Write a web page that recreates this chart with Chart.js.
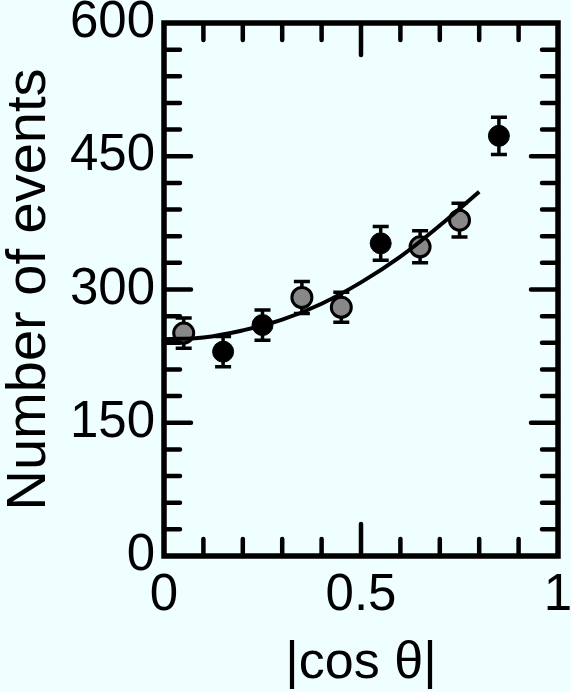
<!DOCTYPE html>
<html>
<head>
<meta charset="utf-8">
<script src="https://cdn.jsdelivr.net/npm/chart.js@4.4.0/dist/chart.umd.min.js"></script>
<style>
  html, body { margin: 0; padding: 0; background: #effefe; }
  canvas { display: block; }
</style>
</head>
<body>
<canvas id="angChart" width="571" height="692"></canvas>
<script>
// |cos theta| bins, open and filled samples
const openBins = [0.05, 0.35, 0.45, 0.65, 0.75];
const openEvents = [251, 291, 280, 348, 378];
const openErr = [17, 18, 17, 18, 19];

const filledBins = [0.15, 0.25, 0.55, 0.85];
const filledEvents = [230, 260, 352, 473];
const filledErr = [17, 17, 19, 21];

// fitted curve
const fitX = [0, 0.1, 0.2, 0.3, 0.4, 0.5, 0.6, 0.7, 0.8];
const fitY = [244, 246, 254, 266, 284, 308, 337, 372, 410];

const xLabels = [0, 0.5, 1];
const yLabels = [0, 150, 300, 450, 600];

const INK = '#000';
const FONT = "'Liberation Sans', Arial, sans-serif";

function toPoints(xs, ys) {
  return xs.map((x, i) => ({ x: x, y: ys[i] }));
}

function isLabel(list, v) {
  return list.some(l => Math.abs(l - v) < 1e-6);
}

// frame with inward ticks on all four sides
const frameTicks = {
  id: 'frameTicks',
  beforeDatasetsDraw(chart) {
    const { ctx, chartArea: a, scales } = chart;
    ctx.save();
    ctx.strokeStyle = INK;
    ctx.lineCap = 'round';

    ctx.lineWidth = 4.5;
    scales.x.ticks.forEach(t => {
      if (t.value <= 0.0001 || t.value >= 0.9999) return;
      const px = scales.x.getPixelForValue(t.value);
      const len = Math.abs(t.value - 0.5) < 1e-6 ? 32 : 17;
      ctx.beginPath();
      ctx.moveTo(px, a.bottom); ctx.lineTo(px, a.bottom - len);
      ctx.moveTo(px, a.top); ctx.lineTo(px, a.top + len);
      ctx.stroke();
    });
    scales.y.ticks.forEach(t => {
      if (t.value <= 0 || t.value >= 600) return;
      const py = scales.y.getPixelForValue(t.value);
      const len = isLabel(yLabels, t.value) ? 27 : 16;
      ctx.beginPath();
      ctx.moveTo(a.left, py); ctx.lineTo(a.left + len, py);
      ctx.moveTo(a.right, py); ctx.lineTo(a.right - len, py);
      ctx.stroke();
    });

    ctx.lineWidth = 5.5;
    ctx.lineCap = 'square';
    ctx.strokeRect(a.left, a.top, a.right - a.left, a.bottom - a.top);
    ctx.restore();
  }
};

// vertical error bars with caps
const errorBars = {
  id: 'errorBars',
  beforeDatasetsDraw(chart) {
    const { ctx, scales } = chart;
    const sets = [
      [openBins, openEvents, openErr],
      [filledBins, filledEvents, filledErr]
    ];
    ctx.save();
    ctx.strokeStyle = INK;
    ctx.lineWidth = 3.5;
    sets.forEach(([xs, ys, es]) => {
      xs.forEach((x, i) => {
        const px = scales.x.getPixelForValue(x);
        const top = scales.y.getPixelForValue(ys[i] + es[i]);
        const bot = scales.y.getPixelForValue(ys[i] - es[i]);
        ctx.beginPath();
        ctx.moveTo(px, top); ctx.lineTo(px, bot);
        ctx.moveTo(px - 8, top); ctx.lineTo(px + 8, top);
        ctx.moveTo(px - 8, bot); ctx.lineTo(px + 8, bot);
        ctx.stroke();
      });
    });
    ctx.restore();
  }
};

const ctx = document.getElementById('angChart').getContext('2d');

new Chart(ctx, {
  type: 'scatter',
  data: {
    datasets: [
      {
        label: 'fit',
        data: toPoints(fitX, fitY),
        showLine: true,
        tension: 0.4,
        borderColor: INK,
        borderWidth: 4,
        pointRadius: 0
      },
      {
        label: 'open',
        data: toPoints(openBins, openEvents),
        pointRadius: 10,
        pointBackgroundColor: '#888',
        pointBorderColor: INK,
        pointBorderWidth: 3
      },
      {
        label: 'filled',
        data: toPoints(filledBins, filledEvents),
        pointRadius: 10.5,
        pointBackgroundColor: INK,
        pointBorderColor: INK,
        pointBorderWidth: 1
      }
    ]
  },
  options: {
    responsive: false,
    animation: false,
    layout: { padding: { top: 23, right: 5, left: 0, bottom: 0 } },
    plugins: {
      legend: { display: false },
      tooltip: { enabled: false }
    },
    scales: {
      x: {
        type: 'linear',
        min: 0,
        max: 1,
        grid: { display: false, drawTicks: false },
        border: { display: false },
        ticks: {
          stepSize: 0.1,
          autoSkip: false,
          maxRotation: 0,
          padding: 14,
          color: INK,
          font: { family: FONT, size: 51, lineHeight: 1 },
          callback: v => isLabel(xLabels, v) ? String(Math.round(v * 10) / 10) : ''
        },
        title: {
          display: true,
          text: '|cos θ|',
          color: INK,
          font: { family: FONT, size: 52, lineHeight: 1 },
          padding: { top: 0, bottom: 2 }
        },
        afterFit(scale) {
          scale.height = 136;
          scale.paddingLeft = 0;
          scale.paddingRight = 0;
        }
      },
      y: {
        type: 'linear',
        min: 0,
        max: 600,
        grid: { display: false, drawTicks: false },
        border: { display: false },
        ticks: {
          stepSize: 30,
          autoSkip: false,
          padding: 9,
          color: INK,
          font: { family: FONT, size: 51, lineHeight: 1 },
          callback: v => isLabel(yLabels, v) ? String(v) : ''
        },
        title: {
          display: true,
          text: 'Number of events',
          color: INK,
          font: { family: FONT, size: 56, lineHeight: 1 },
          padding: { top: 2, bottom: 0 }
        },
        afterFit(scale) {
          scale.width = 164;
          scale.paddingTop = 0;
          scale.paddingBottom = 0;
        }
      }
    }
  },
  plugins: [frameTicks, errorBars]
});
</script>
</body>
</html>
